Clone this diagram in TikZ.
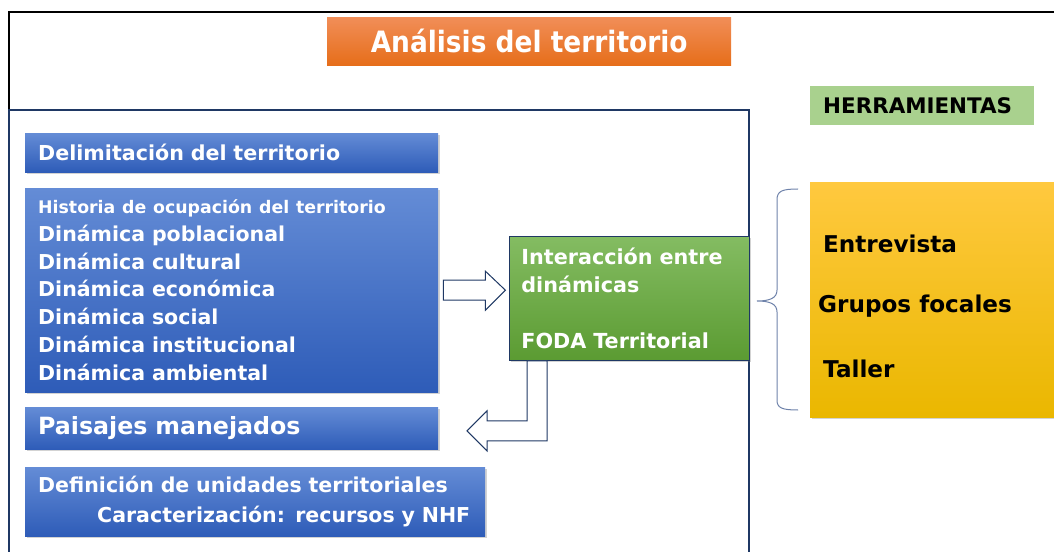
\documentclass[tikz,border=0pt]{standalone}
\usepackage{fontspec}
\setmainfont{DejaVu Sans}
\newfontfamily\condfont{DejaVu Sans Condensed}
\usetikzlibrary{calc,shadows}

\definecolor{marco}{RGB}{31,56,100}
\definecolor{azulA}{RGB}{100,140,214}
\definecolor{azulB}{RGB}{46,92,184}
\definecolor{naranjaA}{RGB}{241,142,88}
\definecolor{naranjaB}{RGB}{230,110,26}
\definecolor{verdeA}{RGB}{132,188,98}
\definecolor{verdeB}{RGB}{91,155,50}
\definecolor{amarilloA}{RGB}{255,201,63}
\definecolor{amarilloB}{RGB}{234,183,0}
\definecolor{herrverde}{RGB}{169,209,142}
\definecolor{llavegris}{RGB}{110,130,170}

\tikzset{
  sombra/.style={drop shadow={opacity=0.35, shadow xshift=2bp, shadow yshift=-2bp}},
  bluebox/.style={anchor=north west, draw=none, top color=azulA, bottom color=azulB,
    text=white, inner xsep=13bp, inner ysep=0pt, align=left, sombra},
  flecha/.style={draw=marco, fill=white, line width=1bp, line join=miter},
}

\begin{document}
\begin{tikzpicture}[x=1bp, y=-1bp]
    \useasboundingbox (0,0) rectangle (1054,552);

    % Marcos
    \draw[line width=1.2bp] (9,570) |- (1070,12);
    \draw[marco, line width=1.5bp] (9,570) |- (749,110) -- (749,570);

    % Titulo
    \node[anchor=north west, top color=naranjaA, bottom color=naranjaB, text=white,
          minimum width=404bp, minimum height=48bp, inner sep=0pt,
          font=\condfont\bfseries\fontsize{29.5}{32}\selectfont] (titulo) at (327,17) {Análisis del territorio};

    % Herramientas
    \node[anchor=north west, fill=herrverde, minimum height=39bp, text width=198bp,
          inner xsep=13bp, inner ysep=0pt, align=left,
          font=\bfseries\fontsize{21.5}{24}\selectfont] (herr) at (810,86) {HERRAMIENTAS};

    % Cajas azules
    \node[bluebox, text width=387bp, minimum height=39bp,
          font=\bfseries\fontsize{20.7}{24}\selectfont] (delim) at (25,133) {Delimitación del territorio};
    \node[bluebox, text width=387bp, minimum height=204bp,
          font=\bfseries\fontsize{20.6}{28}\selectfont] (dinam) at (25,188)
          {{\fontsize{17.4}{28}\selectfont Historia de ocupación del territorio}\\
           Dinámica poblacional\\
           Dinámica cultural\\
           Dinámica económica\\
           Dinámica social\\
           Dinámica institucional\\
           Dinámica ambiental};
    \node[bluebox, text width=387bp, minimum height=42bp,
          font=\bfseries\fontsize{23.8}{27}\selectfont] (paisaje) at (25,407) {Paisajes manejados};
    \node[bluebox, text width=434bp, minimum height=69bp,
          font=\bfseries\fontsize{20.6}{30}\selectfont] (unidades) at (25,467)
          {Definición de unidades territoriales\\
           \hspace*{59bp}Caracterización: recursos y NHF};

    % Caja verde
    \node[anchor=north west, draw=marco, line width=0.8bp, top color=verdeA, bottom color=verdeB,
          text=white, text width=216bp, minimum height=124bp, inner xsep=12bp, inner ysep=0pt,
          align=left, sombra, font=\bfseries\fontsize{20.8}{28}\selectfont] (foda) at (509,236)
          {Interacción entre\\ dinámicas\\[28bp] FODA Territorial};

    % Caja amarilla
    \node[anchor=north west, top color=amarilloA, bottom color=amarilloB, minimum width=260bp,
          minimum height=235bp, inner sep=0pt, sombra] (caja) at (810,182) {};
    \node[anchor=west, inner sep=0pt, font=\bfseries\fontsize{23.2}{25}\selectfont] (entrev) at (823,244) {Entrevista};
    \node[anchor=west, inner sep=0pt, font=\bfseries\fontsize{23.2}{25}\selectfont] (grupos) at (818,306) {Grupos focales};
    \node[anchor=west, inner sep=0pt, font=\bfseries\fontsize{23.2}{25}\selectfont] (taller) at (823,369) {Taller};

    % Flechas de bloque
    \draw[flecha] ($(dinam.east)+(5,-10)$) -- ++(42,0) -- ++(0,-9) -- ++(20,19)
        -- ++(-20,20) -- ++(0,-10) -- ++(-42,0) -- cycle;
    \draw[flecha] ($(foda.south west)+(18,0)$) -- ++(0,60) -- ++(-40,0) -- ++(0,-10)
        -- ++(-20,20) -- ++(20,20) -- ++(0,-10) -- ++(60,0) -- ++(0,-80) -- cycle;

    % Llave
    \draw[llavegris, line width=1bp] (798,189) .. controls (782,189) and (777,191) .. (777,200)
        -- (777,290) .. controls (777,298) and (770,301) .. (757,301)
        .. controls (770,301) and (777,304) .. (777,312) -- (777,400)
        .. controls (777,408) and (782,410) .. (798,410);

\end{tikzpicture}
\end{document}
